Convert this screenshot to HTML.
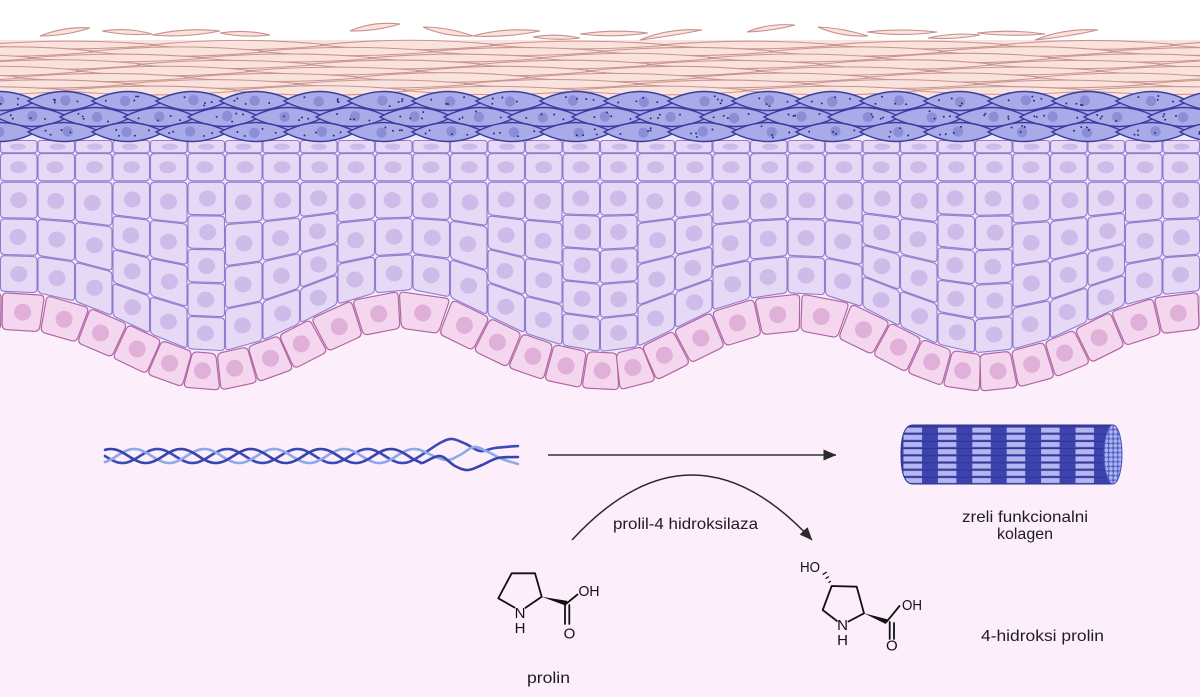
<!DOCTYPE html>
<html><head><meta charset="utf-8"><title>Kolagen</title>
<style>
html,body{margin:0;padding:0;background:#fdeefb;width:1200px;height:697px;overflow:hidden}
svg{display:block}
.t{font-family:"Liberation Sans",Arial,sans-serif;fill:#1f1d1f;font-size:16px}
.c{font-family:"Liberation Sans",Arial,sans-serif;fill:#111;font-size:15px}
</style></head><body>
<svg width="1200" height="697" viewBox="0 0 1200 697" xmlns="http://www.w3.org/2000/svg">
<defs>
 <marker id="ah" viewBox="0 0 13 11" markerWidth="13" markerHeight="11" refX="12.5" refY="5.5" orient="auto" markerUnits="userSpaceOnUse"><path d="M0,0 L13,5.5 L0,11 Z" fill="#2a2a2a"/></marker>
 <pattern id="fib" patternUnits="userSpaceOnUse" x="903" y="426.5" width="34.4" height="7.2">
   <rect x="0" y="0" width="34.4" height="7.2" fill="#3d43ad"/>
   <rect x="0.5" y="1.1" width="18.5" height="5" fill="#b4b6ef"/>
   <line x1="0" y1="0.3" x2="34.4" y2="0.3" stroke="#2a2e8c" stroke-width="0.9"/>
 </pattern>
 <pattern id="dots" patternUnits="userSpaceOnUse" x="1104" y="425" width="4.6" height="4.6">
   <rect width="4.6" height="4.6" fill="#5b63c6"/>
   <circle cx="2.3" cy="2.3" r="1.9" fill="#a9b4f2"/>
 </pattern>
 <clipPath id="cyl"><path d="M913,425 H1113 V484 H913 Q901,484 901,454.5 Q901,425 913,425 Z"/></clipPath>
</defs>

<rect width="1200" height="697" fill="#fdeefb"/>
<rect width="1200" height="41" fill="#ffffff"/>
<rect y="40" width="1200" height="60" fill="#fbe2dc"/>
<rect y="99" width="1200" height="37" fill="#a9ace9"/>
<path id="basalbg" fill="#f3d4ed" d="M0,140 H1200 V329 L1180,330 L1140,340 L1110,353 L1080,370 L1040,383 L1000,392 L960,392 L920,380 L880,360 L850,343 L830,335 L800,330 L760,335 L720,348 L680,370 L640,389 L600,392 L550,383 L510,370 L470,350 L430,329 L400,328 L370,333 L340,345 L310,363 L270,380 L230,390 L210,393 L190,391 L150,377 L110,357 L70,340 L40,331 L0,330 Z"/>
<path id="spinbg" fill="#ebe0f8" d="M0,134 H1200 V291 L1180,292 L1140,302 L1110,315 L1080,332 L1040,345 L1000,354 L960,354 L920,342 L880,322 L850,305 L830,297 L800,292 L760,297 L720,310 L680,332 L640,351 L600,354 L550,345 L510,332 L470,312 L430,291 L400,290 L370,295 L340,307 L310,325 L270,342 L230,352 L210,355 L190,353 L150,339 L110,319 L70,302 L40,293 L0,292 Z"/>

<g fill="#fbe2dc" stroke="#c78f8b" stroke-width="1.1">
<path d="M40,36 Q65,26 90,28 Q65,36 40,36 Z"/>
<path d="M102,31 Q127,27 152,34 Q127,36 102,31 Z"/>
<path d="M152,35 Q186,27 220,31 Q186,38 152,35 Z"/>
<path d="M220,33 Q245,29 270,35 Q245,38 220,33 Z"/>
<path d="M350,31 Q372,21 400,24 Q378,31 350,31 Z"/>
<path d="M423,27 Q448,27 473,36 Q445,37 423,27 Z"/>
<path d="M473,36 Q505,27 540,31 Q505,38 473,36 Z"/>
<path d="M533,37 Q556,33 580,38 Q556,41 533,37 Z"/>
<path d="M580,34 Q614,29 648,33 Q614,38 580,34 Z"/>
<path d="M640,40 Q668,28 702,30 Q672,36 640,40 Z"/>
<path d="M747,32 Q768,23 795,25 Q772,31 747,32 Z"/>
<path d="M818,27 Q843,28 868,36 Q840,37 818,27 Z"/>
<path d="M867,32 Q902,28 937,32 Q902,37 867,32 Z"/>
<path d="M928,38 Q954,32 980,35 Q954,40 928,38 Z"/>
<path d="M977,33 Q1011,29 1045,34 Q1011,37 977,33 Z"/>
<path d="M1035,40 Q1064,28 1098,30 Q1066,37 1035,40 Z"/>
</g>

<g id="dyn"></g>

<g id="fiber"></g>

<line x1="548" y1="455" x2="836" y2="455" stroke="#333" stroke-width="1.6" marker-end="url(#ah)"/>

<g clip-path="url(#cyl)">
  <rect x="895" y="420" width="230" height="70" fill="url(#fib)"/>
</g>
<path d="M913,425 H1113 V484 H913 Q901,484 901,454.5 Q901,425 913,425 Z" fill="none" stroke="#2b2f8d" stroke-width="1"/>
<ellipse cx="1113" cy="454.5" rx="9" ry="29.5" fill="url(#dots)" stroke="#4a52bb" stroke-width="1"/>

<text class="t" x="962" y="522" textLength="126" lengthAdjust="spacingAndGlyphs">zreli funkcionalni</text>
<text class="t" x="997" y="539" textLength="56" lengthAdjust="spacingAndGlyphs">kolagen</text>

<path d="M572,540 Q692,410 812,540" fill="none" stroke="#2a2a2a" stroke-width="1.5" marker-end="url(#ah)"/>
<text class="t" x="613" y="529" textLength="145" lengthAdjust="spacingAndGlyphs">prolil-4 hidroksilaza</text>

<g stroke="#111" stroke-width="1.8" fill="none" stroke-linecap="round" stroke-linejoin="round">
<path d="M514.5,607.5 L498.3,598.3 L511.7,573.3 L535,573.3 L541.7,596.7 L525.5,607.8"/>
<path d="M566.7,603.3 L577.5,594.5"/>
<path d="M565,604 L565,624 M569.3,605 L569.3,624"/>
</g>
<path d="M541.7,596.7 L567.3,600.9 L566.1,605.7 Z" fill="#111"/>
<text class="c" x="578.5" y="596" textLength="21" lengthAdjust="spacingAndGlyphs">OH</text>
<text class="c" x="520" y="618" text-anchor="middle">N</text>
<text class="c" x="520" y="633" text-anchor="middle">H</text>
<text class="c" x="569.5" y="638.5" text-anchor="middle">O</text>
<text class="t" x="527" y="683" textLength="43" lengthAdjust="spacingAndGlyphs">prolin</text>

<g stroke="#111" stroke-width="1.8" fill="none" stroke-linecap="round" stroke-linejoin="round">
<path d="M837,621 L822.7,610 L831.7,586 L856.7,586.7 L864,613.3 L848.5,621.5"/>
<path d="M886.7,621.7 L899.5,606"/>
<path d="M889.7,622 L889.7,639 M894,623 L894,639"/>
</g>
<path d="M864,613.3 L887.6,619.4 L885.8,624 Z" fill="#111"/>
<g stroke="#111" stroke-width="1.3">
<line x1="828.6" y1="582.6" x2="830.8" y2="581.2"/>
<line x1="825.6" y1="578.6" x2="828.8" y2="576.6"/>
<line x1="822.6" y1="574.6" x2="826.8" y2="572.0"/>
</g>
<text class="c" x="800" y="572" textLength="20" lengthAdjust="spacingAndGlyphs">HO</text>
<text class="c" x="902" y="610" textLength="20" lengthAdjust="spacingAndGlyphs">OH</text>
<text class="c" x="842.5" y="630" text-anchor="middle">N</text>
<text class="c" x="842.5" y="645" text-anchor="middle">H</text>
<text class="c" x="891.8" y="650.5" text-anchor="middle">O</text>
<text class="t" x="981" y="641" textLength="123" lengthAdjust="spacingAndGlyphs">4-hidroksi prolin</text>
</svg>

<script>
(function(){
var NS="http://www.w3.org/2000/svg";
function el(tag,a,p){var e=document.createElementNS(NS,tag);for(var k in a)e.setAttribute(k,a[k]);p.appendChild(e);return e;}
var seed=12345;function rnd(){seed=(seed*16807)%2147483647;return (seed-1)/2147483646;}
function f(v){return (Math.round(v*10)/10).toString();}
function rq(q,r){var d='',n=q.length;for(var i=0;i<n;i++){var p=q[i],pr=q[(i+n-1)%n],nx=q[(i+1)%n];
 var v1x=pr[0]-p[0],v1y=pr[1]-p[1],l1=Math.hypot(v1x,v1y)||1;var v2x=nx[0]-p[0],v2y=nx[1]-p[1],l2=Math.hypot(v2x,v2y)||1;
 var rr=Math.min(r,l1/2.2,l2/2.2);var ax=p[0]+v1x/l1*rr,ay=p[1]+v1y/l1*rr,bx=p[0]+v2x/l2*rr,by=p[1]+v2y/l2*rr;
 d+=(i?'L':'M')+f(ax)+','+f(ay)+'Q'+f(p[0])+','+f(p[1])+' '+f(bx)+','+f(by);}return d+'Z';}
var dyn=document.getElementById('dyn');
var gSC=el('g',{},dyn),gSP=el('g',{},dyn),gBA=el('g',{},dyn),gGR=el('g',{},dyn);

/* stratum corneum */
var scRows=[45,51.5,58,64.5,71,77.5,84,90.5];
for(var i=0;i<scRows.length;i++){var y=scRows[i];var W=170;var off=-((i*61)%170)-20;
 for(var x=off;x<1220;x+=W){var x1=x,x2=x+W+10,cx=(x1+x2)/2,h=3.8+rnd()*1.0;
  el('path',{d:'M'+f(x1)+','+f(y)+'Q'+f(cx)+','+f(y-2*h)+' '+f(x2)+','+f(y)+'Q'+f(cx)+','+f(y+2*h)+' '+f(x1)+','+f(y)+'Z',fill:'#fbe3dd',stroke:'#c99591','stroke-width':'1.05'},gSC);}}

/* granular layer */
var grRows=[[101,0],[117,32],[132,0]];
for(var i=0;i<3;i++){var cy=grRows[i][0],o=grRows[i][1];
 for(var cx=o-64;cx<1264;cx+=64){var h=9.5;
  el('path',{d:'M'+(cx-36)+','+cy+'Q'+cx+','+(cy-2*h)+' '+(cx+36)+','+cy+'Q'+cx+','+(cy+2*h)+' '+(cx-36)+','+cy+'Z',fill:'#a8abe8',stroke:'#3a3c9f','stroke-width':'1.4'},gGR);
  el('circle',{cx:f(cx-4+rnd()*8),cy:f(cy+rnd()*2-1),r:'5.2',fill:'#8b8ed6'},gGR);
  for(var k=0;k<4;k++){var dx=(rnd()-0.5)*46;var lim=7*(1-Math.abs(dx)/36);var dy=(rnd()-0.5)*2*lim;
   el('circle',{cx:f(cx+dx),cy:f(cy+dy),r:'0.95',fill:'#23267c'},gGR);}
 }}

/* basal curve */
var BP=[[-80,331],[0,330],[40,331],[70,340],[110,357],[150,377],[190,391],[210,393],[230,390],[270,380],[310,363],[340,345],[370,333],[400,328],[430,329],[470,350],[510,370],[550,383],[600,392],[640,389],[680,370],[720,348],[760,335],[800,330],[830,335],[850,343],[880,360],[920,380],[960,392],[1000,392],[1040,383],[1080,370],[1110,353],[1140,340],[1180,330],[1280,329]];
function lin(x){if(x<=BP[0][0])return BP[0][1];for(var i=0;i<BP.length-1;i++){var a=BP[i],b=BP[i+1];if(x<=b[0])return a[1]+(b[1]-a[1])*(x-a[0])/(b[0]-a[0]);}return BP[BP.length-1][1];}
function B(x){var s=0,n=0;for(var d=-20;d<=20;d+=4){s+=lin(x+d);n++;}return s/n;}
var pts=[],Ltot=0,px=-60,py=B(-60);
for(var x=-60;x<=1260;x++){var y=B(x);Ltot+=Math.hypot(x-px,y-py);pts.push([x,y,Ltot]);px=x;py=y;}
function atS(s){var lo=0,hi=pts.length-1;while(hi-lo>1){var m=(lo+hi)>>1;if(pts[m][2]<s)lo=m;else hi=m;}
 var a=pts[lo],b=pts[hi];var dl=b[2]-a[2];var t=dl?(s-a[2])/dl:0;var dx=b[0]-a[0],dy=b[1]-a[1],l=Math.hypot(dx,dy)||1;
 return {x:a[0]+dx*t,y:a[1]+dy*t,nx:dy/l,ny:-dx/l};}

var H=37.5,CW=38.4;
for(var s=pts[23][2];s<pts[pts.length-30][2];s+=CW){
 var a=atS(s+0.7),b=atS(s+CW-0.7);
 var q=[[a.x+a.nx*0.8,a.y+a.ny*0.8],[b.x+b.nx*0.8,b.y+b.ny*0.8],[b.x+b.nx*H,b.y+b.ny*H],[a.x+a.nx*H,a.y+a.ny*H]];
 el('path',{d:rq(q,5),fill:'#f4d6ee',stroke:'#ad64a3','stroke-width':'1.15'},gBA);
 var mx=(q[0][0]+q[1][0]+q[2][0]+q[3][0])/4,my=(q[0][1]+q[1][1]+q[2][1]+q[3][1])/4;
 el('circle',{cx:f(mx+(rnd()-.5)*3),cy:f(my),r:'8.5',fill:'#e0b0d8'},gBA);
}
var TP=[];for(var i=0;i<pts.length;i+=2){var a=atS(pts[i][2]+0.01);TP.push([a.x+a.nx*(H+1),a.y+a.ny*(H+1)]);}
TP.sort(function(u,v){return u[0]-v[0];});
function T(x){var lo=0,hi=TP.length-1;if(x<=TP[0][0])return TP[0][1];if(x>=TP[hi][0])return TP[hi][1];
 while(hi-lo>1){var m=(lo+hi)>>1;if(TP[m][0]<x)lo=m;else hi=m;}var a=TP[lo],b=TP[hi];var t=(b[0]-a[0])?(x-a[0])/(b[0]-a[0]):0;return a[1]+(b[1]-a[1])*t;}

function cell(q,r,rx,ry){el('path',{d:rq(q,r),fill:'#e6d9f6',stroke:'#917bcc','stroke-width':'1.1'},gSP);
 var mx=(q[0][0]+q[1][0]+q[2][0]+q[3][0])/4,my=(q[0][1]+q[1][1]+q[2][1]+q[3][1])/4;
 el('ellipse',{cx:f(mx+(rnd()-.5)*3),cy:f(my),rx:f(rx),ry:f(ry),fill:'#cfbbe9'},gSP);}
var CWs=37.5;
for(var x0=0;x0<1200;x0+=CWs){
 cell([[x0+.5,140.5],[x0+CWs-.5,140.5],[x0+CWs-.5,152.8],[x0+.5,152.8]],3,8,3.2);
 cell([[x0+.5,153.6],[x0+CWs-.5,153.6],[x0+CWs-.5,180.8],[x0+.5,180.8]],4,8.5,6);
}
var TOP=181.6;
for(var x0=0;x0<1200;x0+=CWs){
 var xa=x0+0.5,xb=x0+CWs-0.5,xc=x0+CWs/2;
 var n=Math.max(1,Math.round((T(xc)-TOP)/37));
 var Ta=T(xa),Tb=T(xb);
 var ha=(Ta-TOP)/n,hb=(Tb-TOP)/n;
 for(var k=0;k<n;k++){
  var La=Ta-k*ha-0.6,Lb=Tb-k*hb-0.6,Ua=Ta-(k+1)*ha+0.6,Ubb=Tb-(k+1)*hb+0.6;
  var hm=(La-Ua+Lb-Ubb)/2;
  cell([[xa,Ua],[xb,Ubb],[xb,Lb],[xa,La]],4,8.5,Math.min(8,Math.max(3,hm/2-5)));
 }
}
document.getElementById('basalbg').setAttribute('fill','#fdeefb');
document.getElementById('spinbg').setAttribute('fill','#f1e9fb');

/* triple helix */
var gF=document.getElementById('fiber');
function cr(P){var d='M'+f(P[0][0])+','+f(P[0][1]);
 for(var i=0;i<P.length-1;i++){var p0=P[i-1]||P[i],p1=P[i],p2=P[i+1],p3=P[i+2]||p2;
  d+='C'+f(p1[0]+(p2[0]-p0[0])/6)+','+f(p1[1]+(p2[1]-p0[1])/6)+' '+f(p2[0]-(p3[0]-p1[0])/6)+','+f(p2[1]-(p3[1]-p1[1])/6)+' '+f(p2[0])+','+f(p2[1]);}
 return d;}
var tails=[[[440,443],[452,439],[466,444],[480,451],[495,448],[518,446]],[[445,460],[460,455],[474,447],[488,452],[502,459],[518,464]],[[440,456],[455,466],[468,470],[482,465],[498,458],[518,457]]];
var cols=['#3c4ab7','#8eaae6','#3844ad'];var phs=[0,2.094,4.189];
for(var k=0;k<3;k++){var P=[];for(var x=105;x<=423;x+=3){P.push([x,456+7*Math.sin(2*Math.PI*(x-105)/70+phs[k])]);}
 P=P.concat(tails[k]);
 el('path',{d:cr(P),fill:'none',stroke:cols[k],'stroke-width':'2.6','stroke-linecap':'round'},gF);}
})();
</script>
</body></html>
